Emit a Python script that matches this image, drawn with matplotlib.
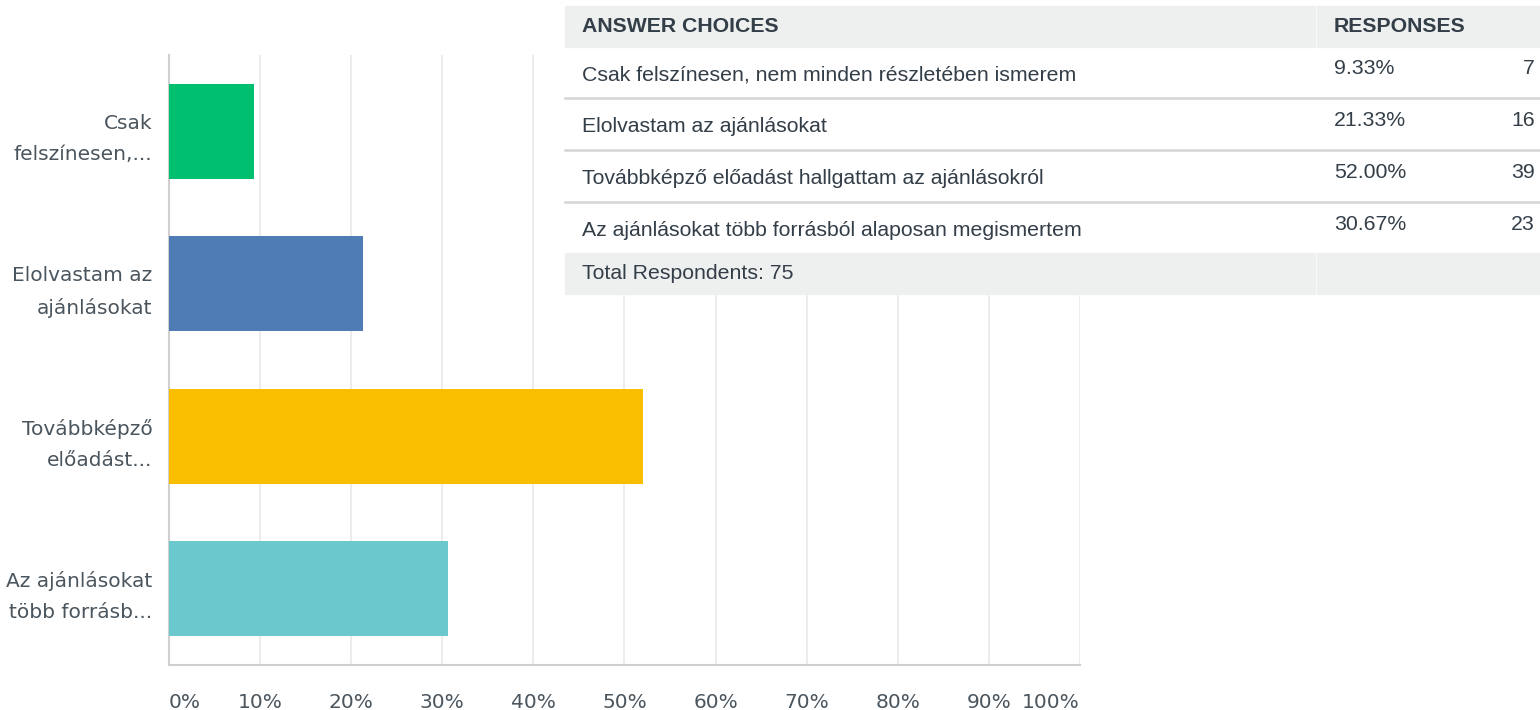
import matplotlib
matplotlib.use("Agg")
import matplotlib.pyplot as plt
from matplotlib.patches import Rectangle

# ---- data ----
short_labels = ["Csak\nfelszínesen,...", "Elolvastam az\najánlásokat",
                "Továbbképző\nelőadást...", "Az ajánlásokat\ntöbb forrásb..."]
answer_choices = ["Csak felszínesen, nem minden részletében ismerem",
                  "Elolvastam az ajánlásokat",
                  "Továbbképző előadást hallgattam az ajánlásokról",
                  "Az ajánlásokat több forrásból alaposan megismertem"]
percents = [9.33, 21.33, 52.00, 30.67]
counts = [7, 16, 39, 23]
total_respondents = 75
bar_colors = ["#00BF6F", "#507CB6", "#F9BE00", "#6BC8CD"]
xticks = [0, 10, 20, 30, 40, 50, 60, 70, 80, 90, 100]
xticklabels = [f"{t}%" for t in xticks]

W, H = 1540, 710
fig = plt.figure(figsize=(W / 100, H / 100), dpi=100)

label_color = "#4a555e"
afont = ["DejaVu Sans"]
ax = fig.add_axes([169 / W, (H - 665) / H, 911 / W, 610 / H])
y = list(range(len(percents)))
ax.barh(y, percents, height=0.62, color=bar_colors, zorder=3)
ax.set_xlim(0, 100)
ax.set_ylim(3.5, -0.5)
ax.set_xticks(xticks)
ax.set_xticklabels(xticklabels)
ax.set_yticks(y)
ax.set_yticklabels(short_labels, linespacing=1.8)
ax.tick_params(axis="both", length=0, colors=label_color, labelsize=14.5)
ax.tick_params(axis="x", pad=20)
ax.tick_params(axis="y", pad=12)
for lab in ax.get_xticklabels() + ax.get_yticklabels():
    lab.set_fontfamily(afont)
xl = ax.get_xticklabels()
xl[0].set_ha("left")
xl[-1].set_ha("right")
ax.grid(axis="x", color="#e9e9e9", linewidth=1.2, zorder=0)
for s in ["top", "right"]:
    ax.spines[s].set_visible(False)
for s in ["left", "bottom"]:
    ax.spines[s].set_color("#d0d0d0")
    ax.spines[s].set_linewidth(1.5)

# ---- table overlay ----
tax = fig.add_axes([0, 0, 1, 1], zorder=10)
tax.set_xlim(0, W)
tax.set_ylim(H, 0)
tax.axis("off")
tax.patch.set_alpha(0)

x0, xdiv, x1 = 565, 1316, 1540
top = 6
head_h = 41
row_h = 52
n = len(answer_choices)
rows_top = top + head_h
rows_bot = rows_top + n * row_h - 2
tot_bot = rows_bot + 41
gray = "#eef0f0"
tax.add_patch(Rectangle((x0, 0), x1 - x0, tot_bot, color="white", zorder=1))
tax.add_patch(Rectangle((x0, top), xdiv - x0 - 1, head_h, color=gray, zorder=2))
tax.add_patch(Rectangle((xdiv + 1, top), x1 - xdiv - 1, head_h, color=gray, zorder=2))
tax.add_patch(Rectangle((x0, rows_bot), xdiv - x0 - 1, tot_bot - rows_bot, color=gray, zorder=2))
tax.add_patch(Rectangle((xdiv + 1, rows_bot), x1 - xdiv - 1, tot_bot - rows_bot, color=gray, zorder=2))
for i in range(1, n):
    yl = rows_top + i * row_h - 1
    tax.plot([x0, xdiv - 1], [yl, yl], color="#d4d6d6", lw=1.8, zorder=3)
    tax.plot([xdiv + 1, x1], [yl, yl], color="#d4d6d6", lw=1.8, zorder=3)

tf = ["Liberation Sans", "DejaVu Sans"]
tcol = "#333e48"
fs = 15.3
tax.text(582, top + head_h / 2, "ANSWER CHOICES", fontsize=fs, fontweight="bold",
         color=tcol, va="center", ha="left", family=tf, zorder=4)
tax.text(1334, top + head_h / 2, "RESPONSES", fontsize=fs, fontweight="bold",
         color=tcol, va="center", ha="left", family=tf, zorder=4)
for i, (c, p, k) in enumerate(zip(answer_choices, percents, counts)):
    yc = rows_top + i * row_h + 28
    tax.text(582, yc, c, fontsize=fs, color=tcol, va="center", ha="left", family=tf, zorder=4)
    tax.text(1334, yc - 7, f"{p:.2f}%", fontsize=fs, color=tcol, va="center", ha="left", family=tf, zorder=4)
    tax.text(1535, yc - 7, f"{k}", fontsize=fs, color=tcol, va="center", ha="right", family=tf, zorder=4)
tax.text(582, (rows_bot + tot_bot) / 2, f"Total Respondents: {total_respondents}", fontsize=fs,
         color=tcol, va="center", ha="left", family=tf, zorder=4)

fig.savefig("out.png", dpi=100)
